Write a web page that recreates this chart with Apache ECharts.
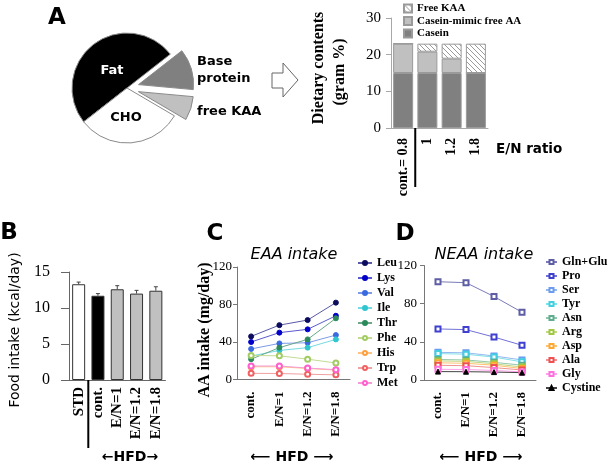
<!DOCTYPE html>
<html><head><meta charset="utf-8">
<script src="https://cdn.jsdelivr.net/npm/echarts@6/dist/echarts.min.js"></script>
<style>html,body{margin:0;padding:0;background:#fff}#c{width:611px;height:466px}</style>
</head><body><div id="c"></div>
<script>
// ---------- data ----------
const pieNames = ['Fat', 'CHO', 'free KAA', 'Base protein'];
const pieValues = [50, 31, 7, 12];

const dietCats = ['cont.= 0.8', '1', '1.2', '1.8'];
const casein = [15, 15, 15, 15];
const caseinMimic = [8, 5.8, 3.9, 0];
const freeKAA = [0, 2.2, 4.1, 8];
const dietTicks = [0, 10, 20, 30];

const foodCats = ['STD', 'cont.', 'E/N=1', 'E/N=1.2', 'E/N=1.8'];
const foodIntake = [13.3, 11.7, 12.6, 12.0, 12.4];
const foodErr = [0.3, 0.3, 0.5, 0.45, 0.55];

const hfdCats = ['cont.', 'E/N=1', 'E/N=1.2', 'E/N=1.8'];

const eaaNames = ['Leu', 'Lys', 'Val', 'Ile', 'Thr', 'Phe', 'His', 'Trp', 'Met'];
const leu = [46, 58, 63.4, 82];
const lys = [40, 50, 53.5, 68];
const val = [32.6, 38.5, 39.2, 47.4];
const ile = [25, 31, 34, 42.8];
const thr = [21.7, 34, 42.8, 65.3];
const phe = [25.6, 25.3, 21.7, 17.6];
const his = [13.6, 13.6, 11.8, 10];
const trp = [6.6, 6.4, 5.6, 5];
const met = [14.4, 14.4, 12.2, 10.5];
const eaaValues = [leu, lys, val, ile, thr, phe, his, trp, met];

const neaaNames = ['Gln+Glu', 'Pro', 'Ser', 'Tyr', 'Asn', 'Arg', 'Asp', 'Ala', 'Gly', 'Cystine'];
const glnGlu = [103, 102, 87.5, 71];
const pro = [53.5, 52.8, 45, 36.4];
const ser = [29, 28.5, 25.2, 21];
const tyr = [27.7, 27, 24, 19];
const asn = [21.5, 21, 18.5, 15.5];
const arg = [20, 19.5, 17, 13.5];
const asp = [18, 17.5, 15.5, 12];
const ala = [15.4, 15, 13, 10.5];
const gly = [11.2, 11, 10, 8.5];
const cystine = [8.8, 8.7, 8.3, 7.7];
const neaaValues = [glnGlu, pro, ser, tyr, asn, arg, asp, ala, gly, cystine];

// ---------- styles ----------
const SANS = 'DejaVu Sans';
const SERIF = 'Liberation Serif';
const eaaStyle = [
  {sym: 'circle', c: '#0c0c5e', l: '#5a5aa6'},
  {sym: 'circle', c: '#0000c8', l: '#5a5ad0'},
  {sym: 'circle', c: '#3a6ae0', l: '#7d9be8'},
  {sym: 'circle', c: '#30c6d0', l: '#74dce2'},
  {sym: 'circle', c: '#2a8a5a', l: '#6aa888'},
  {sym: 'emptyCircle', c: '#a2cc62', l: '#c2dc92'},
  {sym: 'emptyCircle', c: '#ffa040', l: '#ffc282'},
  {sym: 'emptyCircle', c: '#f06060', l: '#f0a0a0'},
  {sym: 'emptyCircle', c: '#ff5fcf', l: '#f59ad8'}
];
const neaaStyle = [
  {sym: 'emptyRect', c: '#5e5ea6', l: '#7a7ab8'},
  {sym: 'emptyRect', c: '#4040d0', l: '#7272d8'},
  {sym: 'emptyRect', c: '#6c9cf0', l: '#92b8f0'},
  {sym: 'emptyRect', c: '#40d0e0', l: '#82e0e8'},
  {sym: 'emptyRect', c: '#5eae8e', l: '#92c8aa'},
  {sym: 'emptyRect', c: '#a0c840', l: '#c2d882'},
  {sym: 'emptyRect', c: '#ffa830', l: '#ffc272'},
  {sym: 'emptyRect', c: '#f05050', l: '#f09292'},
  {sym: 'emptyRect', c: '#ff6fdf', l: '#ffa2e8'},
  {sym: 'triangle', c: '#000000', l: '#444444'}
];
const foodColors = ['#ffffff', '#000000', '#c0c0c0', '#c0c0c0', '#c0c0c0'];

function hatch() {
  const c = document.createElement('canvas');
  c.width = 5; c.height = 5;
  const g = c.getContext('2d');
  g.fillStyle = '#ffffff'; g.fillRect(0, 0, 5, 5);
  g.strokeStyle = '#9a9a9a'; g.lineWidth = 1;
  g.beginPath();
  g.moveTo(-1, -1); g.lineTo(6, 6);
  g.moveTo(-1, 4); g.lineTo(2, 7);
  g.moveTo(4, -1); g.lineTo(7, 2);
  g.stroke();
  return c;
}

const chart = echarts.init(document.getElementById('c'), null, {renderer: 'canvas'});

function catAxis(grid, data, opt) {
  return {
    type: 'category', gridIndex: grid, data: data,
    axisLine: {lineStyle: {color: opt.lineColor, width: 1}},
    axisTick: {length: opt.tick, lineStyle: {color: opt.lineColor}},
    axisLabel: {rotate: 90, interval: 0, fontFamily: SERIF, fontWeight: 'bold', fontSize: opt.fs, color: '#000', margin: opt.margin}
  };
}
function valAxis(grid, max, interval, opt) {
  return {
    type: 'value', gridIndex: grid, min: 0, max: max, interval: interval,
    splitLine: {show: false},
    axisLine: {show: true, lineStyle: {color: opt.lineColor, width: 1}},
    axisTick: {show: true, length: opt.tick, lineStyle: {color: opt.lineColor}},
    axisLabel: {fontFamily: SERIF, fontSize: opt.fs, color: '#000', margin: opt.margin}
  };
}

function separator(xi, yi, len) {
  return {
    type: 'custom', xAxisIndex: xi, yAxisIndex: yi, clip: false, z: 20, silent: true,
    data: [[0, 0]], encode: {x: 0, y: 1},
    renderItem: function (params, api) {
      const c = api.coord([api.value(0), 0]);
      const w = api.size([1, 0])[0];
      const x = c[0] + w / 2;
      return {type: 'line', shape: {x1: x, y1: c[1], x2: x, y2: c[1] + len}, style: {stroke: '#000', lineWidth: 2}};
    }
  };
}

const series = [];
// Pie (A)
series.push({
  type: 'pie', center: [127, 88], radius: 55, startAngle: 38, clockwise: false,
  selectedMode: 'multiple', selectedOffset: 12, silent: true,
  label: {show: false}, labelLine: {show: false},
  itemStyle: {borderColor: '#8a8a8a', borderWidth: 1},
  data: pieNames.map((n, i) => ({
    name: n, value: pieValues[i],
    selected: (n === 'free KAA' || n === 'Base protein'),
    itemStyle: {color: ['#000000', '#ffffff', '#c0c0c0', '#808080'][i]}
  }))
});
// Stacked bars (A)
series.push({name: 'Casein', type: 'bar', stack: 'diet', xAxisIndex: 0, yAxisIndex: 0, barWidth: 20, data: casein,
  itemStyle: {color: '#808080', borderColor: '#9a9a9a', borderWidth: 1}});
series.push({name: 'Casein-mimic free AA', type: 'bar', stack: 'diet', xAxisIndex: 0, yAxisIndex: 0, barWidth: 20, data: caseinMimic,
  itemStyle: {color: '#c0c0c0', borderColor: '#9a9a9a', borderWidth: 1}});
series.push({name: 'Free KAA', type: 'bar', stack: 'diet', xAxisIndex: 0, yAxisIndex: 0, barWidth: 20, data: freeKAA,
  itemStyle: {color: {image: hatch(), repeat: 'repeat'}, borderColor: '#9a9a9a', borderWidth: 1}});
series.push(separator(0, 0, 59));
// Food intake (B)
series.push({name: 'Food intake', type: 'bar', xAxisIndex: 1, yAxisIndex: 1, barWidth: 13,
  data: foodIntake.map((v, i) => ({value: v, itemStyle: {color: foodColors[i]}})),
  itemStyle: {borderColor: '#333', borderWidth: 1}});
series.push({
  type: 'custom', xAxisIndex: 1, yAxisIndex: 1, z: 5, silent: true,
  data: foodIntake.map((v, i) => [i, v, foodErr[i]]), encode: {x: 0, y: 1},
  renderItem: function (params, api) {
    const i = api.value(0), v = api.value(1), e = api.value(2);
    const p0 = api.coord([i, v]), p1 = api.coord([i, v + e]);
    return {type: 'group', children: [
      {type: 'line', shape: {x1: p0[0], y1: p0[1], x2: p1[0], y2: p1[1]}, style: {stroke: '#444', lineWidth: 1}},
      {type: 'line', shape: {x1: p1[0] - 2, y1: p1[1], x2: p1[0] + 2, y2: p1[1]}, style: {stroke: '#444', lineWidth: 1}}
    ]};
  }
});
series.push(separator(1, 1, 68));
// EAA (C)
eaaNames.forEach((n, i) => {
  const s = eaaStyle[i];
  series.push({name: n, type: 'line', xAxisIndex: 2, yAxisIndex: 2, data: eaaValues[i],
    symbol: s.sym, symbolSize: 5, showSymbol: true, silent: true,
    lineStyle: {color: s.l, width: 1}, itemStyle: {color: s.c, borderColor: s.c, borderWidth: 1}});
});
// NEAA (D)
neaaNames.forEach((n, i) => {
  const s = neaaStyle[i];
  series.push({name: n, type: 'line', xAxisIndex: 3, yAxisIndex: 3, data: neaaValues[i],
    symbol: s.sym, symbolSize: 5, showSymbol: true, silent: true,
    lineStyle: {color: s.l, width: 1}, itemStyle: {color: s.c, borderColor: s.c, borderWidth: 1}});
});

function txt(t, x, y, font, opts) {
  opts = opts || {};
  return {type: 'text', x: x, y: y, z: 100, rotation: opts.rot || 0, silent: true,
    style: {text: t, font: font, fill: opts.fill || '#000', align: opts.align || 'center', verticalAlign: 'middle'}};
}

const option = {
  backgroundColor: '#fff',
  animation: false,
  grid: [
    {left: 391, top: 18, width: 97, height: 110},
    {left: 69, top: 272, width: 96.5, height: 108},
    {left: 237, top: 267, width: 113, height: 112.5},
    {left: 424, top: 265.5, width: 112, height: 114.5}
  ],
  xAxis: [
    catAxis(0, dietCats, {lineColor: '#a8a8a8', tick: 5, fs: 14, margin: 10}),
    catAxis(1, foodCats, {lineColor: '#666', tick: 5, fs: 15, margin: 7}),
    catAxis(2, hfdCats, {lineColor: '#777', tick: 5, fs: 13, margin: 12}),
    catAxis(3, hfdCats, {lineColor: '#777', tick: 5, fs: 13, margin: 12})
  ],
  yAxis: [
    valAxis(0, dietTicks[dietTicks.length - 1], 10, {lineColor: '#a8a8a8', tick: 5, fs: 15, margin: 10}),
    valAxis(1, 15, 5, {lineColor: '#666', tick: 8, fs: 16, margin: 19}),
    valAxis(2, 120, 40, {lineColor: '#777', tick: 4, fs: 13, margin: 5}),
    valAxis(3, 120, 40, {lineColor: '#777', tick: 4, fs: 13, margin: 7})
  ],
  legend: [
    {data: ['Free KAA', 'Casein-mimic free AA', 'Casein'], orient: 'vertical', left: 398, top: -2,
      itemWidth: 8, itemHeight: 8, itemGap: 1.5, selectedMode: false, icon: 'rect',
      textStyle: {fontFamily: SERIF, fontWeight: 'bold', fontSize: 11, color: '#000', lineHeight: 11}},
    {data: eaaNames, orient: 'vertical', left: 352, top: 252, itemWidth: 14, itemHeight: 5, itemGap: 3,
      selectedMode: false, textStyle: {fontFamily: SERIF, fontWeight: 'bold', fontSize: 12, color: '#000', lineHeight: 12}},
    {data: neaaNames, orient: 'vertical', left: 540, top: 251, itemWidth: 11, itemHeight: 5, itemGap: 2,
      selectedMode: false, textStyle: {fontFamily: SERIF, fontWeight: 'bold', fontSize: 12, color: '#000', lineHeight: 12}}
  ],
  graphic: [
    txt('A', 57, 18, 'bold 23px "' + SANS + '"'),
    txt('B', 9, 233, 'bold 23px "' + SANS + '"'),
    txt('C', 215, 234, 'bold 23px "' + SANS + '"'),
    txt('D', 405, 234, 'bold 23px "' + SANS + '"'),
    txt('Fat', 112, 71, 'bold 13px "' + SANS + '"', {fill: '#fff'}),
    txt('CHO', 126, 118, 'bold 13px "' + SANS + '"'),
    txt('Base', 197, 62, 'bold 13px "' + SANS + '"', {align: 'left'}),
    txt('protein', 197, 79, 'bold 13px "' + SANS + '"', {align: 'left'}),
    txt('free KAA', 197, 112, 'bold 13px "' + SANS + '"', {align: 'left'}),
    {type: 'polygon', silent: true, z: 100, shape: {points: [[272, 73], [283, 73], [283, 63], [298, 80], [283, 97], [283, 88], [272, 88]]},
      style: {fill: '#fff', stroke: '#666', lineWidth: 1}},
    txt('Dietary contents', 319, 68, 'bold 16px "' + SERIF + '"', {rot: Math.PI / 2}),
    txt('(gram %)', 340, 72, 'bold 16px "' + SERIF + '"', {rot: Math.PI / 2}),
    txt('E/N ratio', 496, 149, 'bold 13.5px "' + SANS + '"', {align: 'left'}),
    txt('Food intake (kcal/day)', 15, 330, '14px "' + SANS + '"', {rot: Math.PI / 2}),
    txt('AA intake (mg/day)', 205, 330, 'bold 16px "' + SERIF + '"', {rot: Math.PI / 2}),
    txt('EAA intake', 294, 255, 'italic 16px "' + SANS + '"'),
    txt('NEAA intake', 484, 255, 'italic 16px "' + SANS + '"'),
    txt('\u2190HFD\u2192', 130, 457, 'bold 14px "' + SANS + '"'),
    txt('\u27F5 HFD \u27F6', 292, 457, 'bold 14px "' + SANS + '"'),
    txt('\u27F5 HFD \u27F6', 481, 457, 'bold 14px "' + SANS + '"')
  ],
  series: series
};
chart.setOption(option);
</script></body></html>
